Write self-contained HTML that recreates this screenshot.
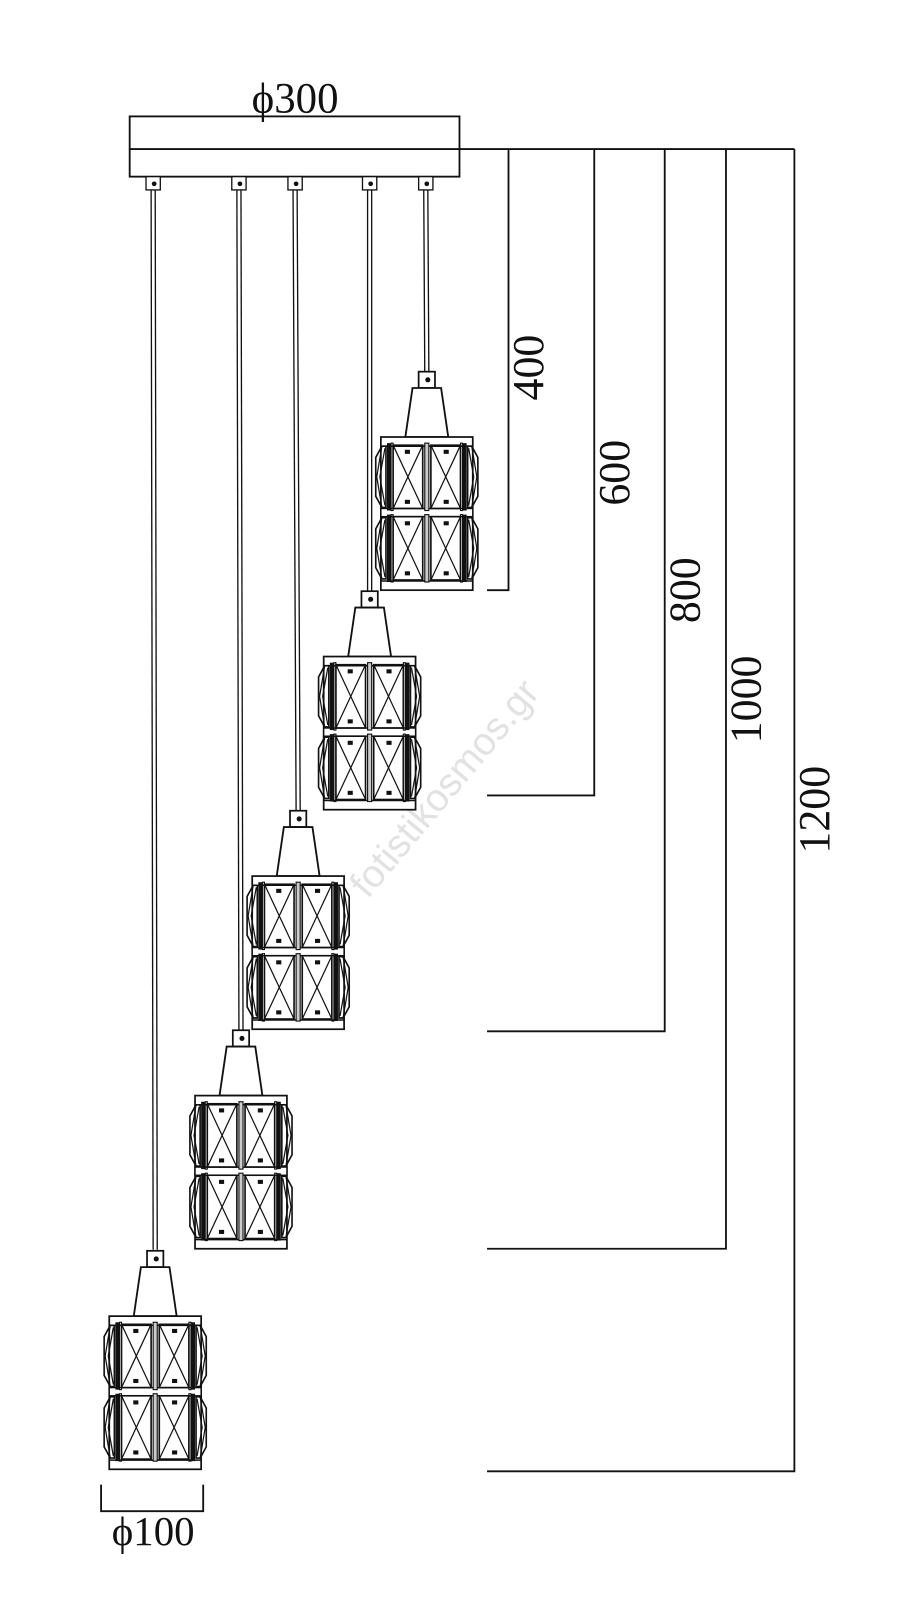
<!DOCTYPE html>
<html><head><meta charset="utf-8"><style>html,body{margin:0;padding:0;background:#fff}svg{display:block}</style></head>
<body>
<svg width="921" height="1600" viewBox="0 0 902 1567" xmlns="http://www.w3.org/2000/svg" font-family="'Liberation Serif', serif">
<defs>
<g id="tier" stroke="#111" fill="none">
  <polygon points="-44,3 -40,3 -40,63 -44,63 -50,52 -50,14" stroke-width="1.6"/>
  <polyline points="-44,3 -49,33 -44,63" stroke-width="1.2"/>
  <polyline points="-41,5 -46,33 -41,61" stroke-width="1.2"/>
  <polygon points="44,3 40,3 40,63 44,63 50,52 50,14" stroke-width="1.6"/>
  <polyline points="44,3 49,33 44,63" stroke-width="1.2"/>
  <polyline points="41,5 46,33 41,61" stroke-width="1.2"/>
  <rect x="-33" y="2" width="29" height="62" stroke-width="1.6"/>
  <rect x="4" y="2" width="29" height="62" stroke-width="1.6"/>
  <line x1="-33" y1="2" x2="-4" y2="64" stroke-width="1.2"/>
  <line x1="-4" y1="2" x2="-33" y2="64" stroke-width="1.2"/>
  <line x1="4" y1="2" x2="33" y2="64" stroke-width="1.2"/>
  <line x1="33" y1="2" x2="4" y2="64" stroke-width="1.2"/>
  <rect x="-21" y="7" width="4" height="3" fill="#111"/>
  <rect x="17" y="7" width="4" height="3" fill="#111"/>
  <rect x="-21" y="56" width="4" height="3" fill="#111"/>
  <rect x="17" y="56" width="4" height="3" fill="#111"/>
  <rect x="-39" y="0" width="4" height="66" fill="#111" stroke="none"/>
  <rect x="35" y="0" width="4" height="66" fill="#111" stroke="none"/>
  <rect x="-35" y="0" width="2" height="66" fill="none" stroke-width="1.1"/>
  <rect x="33" y="0" width="2" height="66" fill="none" stroke-width="1.1"/>
  <rect x="-2" y="0" width="4" height="66" fill="#ccc" stroke-width="1.1"/>
</g>
<g id="pend" stroke="#111" fill="#fff">
  <rect x="-8" y="-64" width="16" height="16" stroke-width="1.7"/>
  <circle cx="1" cy="-56" r="2.5" fill="#111" stroke="none"/>
  <polygon points="-14,-48 14,-48 21,0 -21,0" stroke-width="1.8"/>
  <rect x="-45" y="0" width="90" height="150" stroke-width="1.7"/>
  <line x1="-45" y1="9" x2="45" y2="9" stroke-width="1.5"/>
  <line x1="-45" y1="141" x2="45" y2="141" stroke-width="1.5"/>
  <rect x="-45" y="70" width="90" height="8" stroke-width="1.4"/>
  <use href="#tier" y="6"/>
  <use href="#tier" y="76"/>
</g>
</defs>
<rect width="902" height="1567" fill="#fff"/>
<text x="445" y="780" font-family="'Liberation Sans', sans-serif" font-size="38" fill="#e2e2e2" text-anchor="middle" transform="rotate(-50 445 780)">fotistikosmos.gr</text>
<g stroke="#111" fill="none" stroke-width="1.8">
  <rect x="127" y="114" width="323" height="59"/>
  <line x1="127" y1="146" x2="778" y2="146"/>
</g>
<text x="289" y="110" font-size="42" text-anchor="middle" fill="#111">&#981;300</text>
<g stroke="#111" stroke-width="1.3" fill="#fff">
  <line x1="148" y1="186" x2="150" y2="1224"/><line x1="152" y1="186" x2="154" y2="1224"/>
  <line x1="232" y1="186" x2="234" y2="1009"/><line x1="236" y1="186" x2="238" y2="1009"/>
  <line x1="287" y1="186" x2="290" y2="794"/><line x1="291" y1="186" x2="294" y2="794"/>
  <line x1="360" y1="186" x2="360" y2="579"/><line x1="364" y1="186" x2="364" y2="579"/>
  <line x1="415" y1="186" x2="416" y2="364"/><line x1="419" y1="186" x2="420" y2="364"/>
  <rect x="143" y="173" width="14" height="13"/><rect x="227" y="173" width="14" height="13"/>
  <rect x="282" y="173" width="14" height="13"/><rect x="355" y="173" width="14" height="13"/>
  <rect x="410" y="173" width="14" height="13"/>
</g>
<g fill="#111"><circle cx="151" cy="180" r="2.3"/><circle cx="235" cy="180" r="2.3"/><circle cx="290" cy="180" r="2.3"/><circle cx="363" cy="180" r="2.3"/><circle cx="418" cy="180" r="2.3"/></g>
<use href="#pend" x="418" y="428"/>
<use href="#pend" x="362" y="643"/>
<use href="#pend" x="292" y="858"/>
<use href="#pend" x="236" y="1073"/>
<use href="#pend" x="152" y="1289"/>
<g stroke="#111" stroke-width="1.8" fill="none">
  <polyline points="498,146 498,578 477,578"/>
  <polyline points="582,146 582,779 477,779"/>
  <polyline points="651,146 651,1010 477,1010"/>
  <polyline points="711,146 711,1223 477,1223"/>
  <polyline points="778,146 778,1441 477,1441"/>
  <polyline points="99,1454 99,1480 199,1480 199,1454"/>
</g>
<g font-size="43" fill="#111" text-anchor="middle">
  <text transform="translate(532,360) rotate(-90)">400</text>
  <text transform="translate(616,463) rotate(-90)">600</text>
  <text transform="translate(685,578) rotate(-90)">800</text>
  <text transform="translate(745,685) rotate(-90)">1000</text>
  <text transform="translate(812,793) rotate(-90)">1200</text>
  <text x="150" y="1513" font-size="40">&#981;100</text>
</g>
</svg>
</body></html>
